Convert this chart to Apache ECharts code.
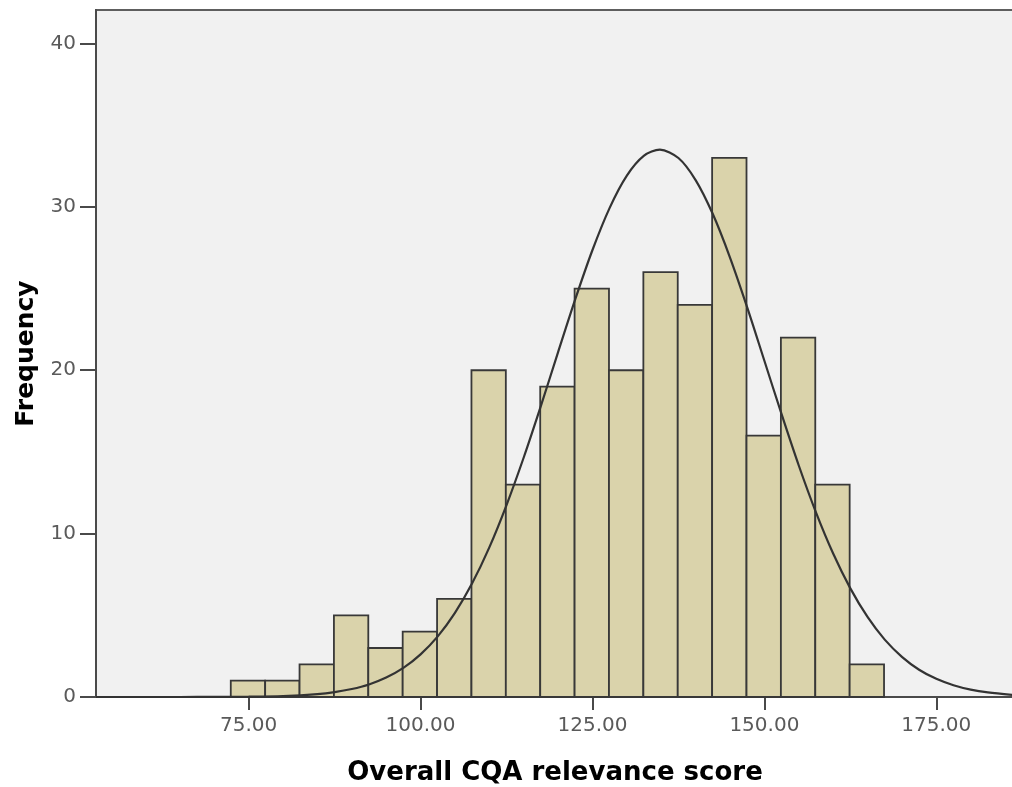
<!DOCTYPE html>
<html>
<head>
<meta charset="utf-8">
<title>Overall CQA relevance score</title>
<script src="https://cdn.jsdelivr.net/npm/echarts@6/dist/echarts.min.js"></script>
<style>
  html, body { margin: 0; padding: 0; background: #ffffff; }
  #chart { width: 1012px; height: 787px; }
</style>
</head>
<body>
<div id="chart"></div>
<script>
// Histogram bins: lower edge of each bin, common bin width, and counts
const binLow = [72.4, 77.4, 82.4, 87.4, 92.4, 97.4, 102.4, 107.4, 112.4, 117.4,
                122.4, 127.4, 132.4, 137.4, 142.4, 147.4, 152.4, 157.4, 162.4];
const binWidth = 5;
const counts = [1, 1, 2, 5, 3, 4, 6, 20, 13, 19, 25, 20, 26, 24, 33, 16, 22, 13, 2];

// Fitted normal curve, sampled as [score, frequency]
const curveX = [52.8, 60, 65, 70, 75, 80, 85, 87.5, 90, 92.5, 95, 97.5, 100, 102.5, 105, 107.5,
                110, 112.5, 115, 117.5, 120, 122.5, 125, 127.5, 130, 132.5, 134.8, 137.5,
                140, 142.5, 145, 147.5, 150, 152.5, 155, 157.5, 160, 162.5, 165, 167.5,
                170, 172.5, 175, 177.5, 180, 182.5, 186.3];
const curveY = [0, 0, 0.001, 0.005, 0.018, 0.06, 0.18, 0.30, 0.49, 0.77, 1.19, 1.78, 2.61, 3.71, 5.15, 6.96,
                9.16, 11.75, 14.66, 17.82, 21.11, 24.35, 27.36, 29.94, 31.91, 33.13, 33.5, 32.99,
                31.64, 29.56, 26.9, 23.85, 20.58, 17.31, 14.17, 11.3, 8.78, 6.65, 4.9, 3.51,
                2.46, 1.67, 1.11, 0.72, 0.45, 0.28, 0.125];

// Axis ticks
const xTicks = [75, 100, 125, 150, 175];
const yTicks = [0, 10, 20, 30, 40];

const barData = binLow.map((lo, i) => [lo, lo + binWidth, counts[i]]);
const curveData = curveX.map((x, i) => [x, curveY[i]]);

const chart = echarts.init(document.getElementById('chart'), null, { renderer: 'canvas' });

const labelFont = { color: '#5a5a5a', fontSize: 20, fontFamily: 'DejaVu Sans' };

chart.setOption({
  animation: false,
  backgroundColor: '#ffffff',
  grid: {
    show: true,
    left: 96,
    top: 10,
    right: -2,
    bottom: 90,
    outerBoundsMode: 'none',
    containLabel: false,
    backgroundColor: '#f1f1f1',
    borderColor: '#5e5e5e',
    borderWidth: 2
  },
  xAxis: {
    type: 'value',
    min: 52.8,
    max: 186.3,
    name: 'Overall CQA relevance score',
    nameLocation: 'middle',
    nameGap: 63,
    nameTextStyle: { color: '#000000', fontSize: 26, fontWeight: 'bold', fontFamily: 'DejaVu Sans' },
    splitLine: { show: false },
    axisLine: { lineStyle: { color: '#4a4a4a', width: 2 } },
    axisTick: { show: true, length: 13, customValues: xTicks, lineStyle: { color: '#4a4a4a', width: 2 } },
    axisLabel: Object.assign({ margin: 19, customValues: xTicks, formatter: v => v.toFixed(2) }, labelFont)
  },
  yAxis: {
    type: 'value',
    min: 0,
    max: 42.05,
    interval: 10,
    name: 'Frequency',
    nameLocation: 'middle',
    nameGap: 57,
    nameTextStyle: { color: '#000000', fontSize: 25, fontWeight: 'bold', fontFamily: 'DejaVu Sans' },
    splitLine: { show: false },
    axisLine: { show: true, lineStyle: { color: '#4a4a4a', width: 2 } },
    axisTick: { show: true, length: 16, customValues: yTicks, lineStyle: { color: '#4a4a4a', width: 2 } },
    axisLabel: Object.assign({ margin: 20, customValues: yTicks }, labelFont)
  },
  series: [
    {
      type: 'custom',
      data: barData,
      encode: { x: [0, 1], y: 2 },
      z: 2,
      renderItem: function (params, api) {
        const p0 = api.coord([api.value(0), 0]);
        const p1 = api.coord([api.value(1), api.value(2)]);
        return {
          type: 'rect',
          shape: { x: p0[0], y: p1[1], width: p1[0] - p0[0], height: p0[1] - p1[1] },
          style: { fill: '#dad3ab', stroke: '#383838', lineWidth: 1.8 }
        };
      }
    },
    {
      type: 'line',
      data: curveData,
      smooth: 0.3,
      showSymbol: false,
      z: 5,
      lineStyle: { color: '#333333', width: 2.2 }
    }
  ]
});
</script>
</body>
</html>
